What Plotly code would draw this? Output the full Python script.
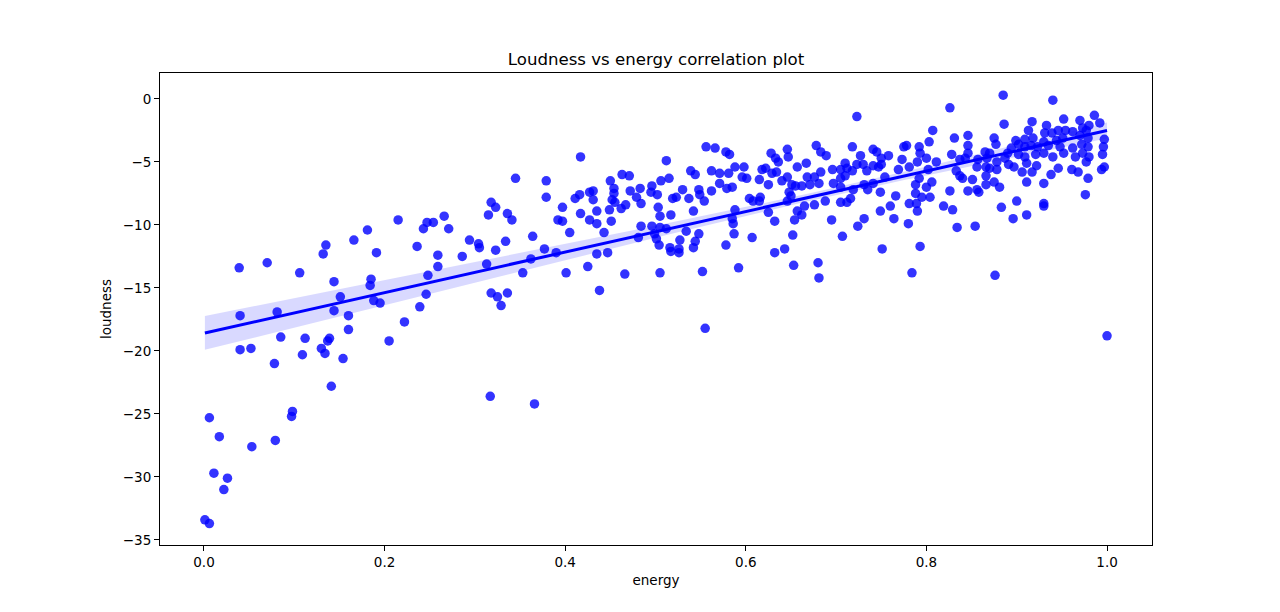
import numpy as np
import plotly.graph_objects as go

# values (energy, loudness)
energy_low = [0.135, 0.166, 0.132, 0.191, 0.039, 0.070, 0.106, 0.144, 0.185, 0.184,
              0.151, 0.188, 0.195, 0.040, 0.081, 0.144, 0.160, 0.160, 0.222, 0.205,
              0.085, 0.112, 0.139, 0.137, 0.130, 0.134, 0.109, 0.154, 0.040, 0.052,
              0.078, 0.141, 0.006, 0.098, 0.097, 0.017, 0.053, 0.079, 0.011, 0.026,
              0.022, 0.001, 0.006, 0.181]
loud_low = [-11.6, -11.2, -12.3, -12.2, -13.4, -13.0, -13.8, -14.5, -14.3, -14.8,
            -15.7, -16.0, -16.2, -17.2, -16.9, -16.8, -17.2, -18.3, -17.7, -19.2,
            -18.9, -19.0, -19.0, -19.2, -19.8, -20.2, -20.3, -20.6, -19.9, -19.8,
            -21.0, -22.8, -25.3, -24.8, -25.2, -26.8, -27.6, -27.1, -29.7, -30.1,
            -31.0, -33.4, -33.7, -10.4]

energy_mid = [0.417, 0.345, 0.379, 0.379, 0.411, 0.416, 0.427, 0.318, 0.323, 0.315,
              0.336, 0.341, 0.397, 0.392, 0.397, 0.417, 0.427, 0.215, 0.247, 0.254,
              0.266, 0.243, 0.271, 0.236, 0.259, 0.259, 0.248, 0.246, 0.239, 0.294,
              0.304, 0.305, 0.286, 0.323, 0.334, 0.313, 0.364, 0.377, 0.390, 0.362,
              0.353, 0.401, 0.425, 0.318, 0.325, 0.336, 0.329, 0.405, 0.317, 0.366]
loud_mid = [-4.6, -6.3, -6.5, -7.8, -7.9, -7.6, -7.4, -8.2, -8.6, -9.2,
            -9.1, -9.6, -8.6, -9.6, -9.7, -9.1, -9.6, -9.6, -9.8, -9.8,
            -9.3, -10.3, -10.3, -11.7, -12.4, -13.3, -14.0, -15.5, -16.5, -11.2,
            -11.5, -11.8, -12.5, -12.0, -11.3, -13.1, -10.9, -11.9, -12.2, -12.7,
            -13.8, -13.8, -13.3, -15.4, -15.7, -15.4, -16.4, -10.6, -23.6, -24.2]

energy_c = [0.556, 0.566, 0.578, 0.582, 0.628, 0.633, 0.512, 0.463, 0.471, 0.450,
            0.454, 0.431, 0.454, 0.431, 0.452, 0.455, 0.472, 0.483, 0.496, 0.495,
            0.502, 0.479, 0.484, 0.462, 0.467, 0.506, 0.515, 0.503, 0.449, 0.435,
            0.435, 0.451, 0.505, 0.517, 0.443, 0.484, 0.481, 0.496, 0.505, 0.499,
            0.501, 0.512, 0.504, 0.519, 0.523, 0.530, 0.537, 0.539, 0.544, 0.548,
            0.549, 0.554, 0.542, 0.534, 0.527, 0.544, 0.548, 0.542, 0.516, 0.517,
            0.526, 0.526, 0.435, 0.447, 0.466, 0.505, 0.438, 0.555, 0.552, 0.592,
            0.632, 0.607, 0.578, 0.587, 0.586, 0.585, 0.588, 0.625, 0.632, 0.604,
            0.608, 0.616, 0.615, 0.562, 0.562, 0.571, 0.571, 0.579, 0.585, 0.581,
            0.588, 0.598, 0.596, 0.601, 0.615, 0.625, 0.618, 0.622, 0.629]
loud_c = [-3.8, -3.9, -4.2, -4.4, -4.3, -4.7, -4.9, -6.0, -6.1, -6.5,
          -7.1, -7.3, -7.5, -8.0, -8.0, -8.2, -7.3, -7.1, -6.9, -7.4,
          -7.6, -7.8, -8.3, -8.7, -8.4, -6.5, -6.3, -8.6, -8.8, -8.9,
          -9.9, -9.7, -9.3, -9.2, -10.6, -10.1, -11.0, -10.1, -10.2, -10.7,
          -11.1, -10.3, -11.6, -7.9, -7.8, -7.2, -7.9, -5.7, -6.0, -7.2,
          -7.6, -8.1, -8.9, -10.5, -11.2, -11.3, -10.7, -11.8, -11.8, -12.1,
          -11.9, -12.2, -12.3, -12.2, -13.9, -13.8, -15.2, -18.2, -13.7, -13.4,
          -12.2, -11.0, -11.6, -10.7, -9.9, -9.5, -8.8, -9.0, -9.7, -7.9,
          -8.1, -7.8, -8.1, -7.3, -5.7, -5.9, -6.7, -7.1, -7.0, -5.9,
          -5.4, -5.4, -6.2, -6.3, -6.4, -6.8, -5.6, -5.5, -5.9]

energy_d = [0.723, 0.646, 0.636, 0.647, 0.657, 0.667, 0.678, 0.683, 0.689, 0.718,
            0.727, 0.741, 0.745, 0.750, 0.758, 0.775, 0.773, 0.769, 0.634, 0.640,
            0.646, 0.651, 0.655, 0.662, 0.668, 0.671, 0.676, 0.683, 0.681, 0.696,
            0.697, 0.705, 0.710, 0.712, 0.710, 0.705, 0.718, 0.723, 0.730, 0.734,
            0.741, 0.747, 0.750, 0.754, 0.705, 0.719, 0.731, 0.735, 0.741, 0.648,
            0.650, 0.646, 0.665, 0.657, 0.662, 0.654, 0.676, 0.688, 0.705, 0.712,
            0.716, 0.749, 0.766, 0.760, 0.749, 0.764, 0.695, 0.731, 0.724, 0.652,
            0.707, 0.643, 0.751, 0.653, 0.680, 0.681]
loud_d = [-1.4, -4.0, -5.0, -4.6, -5.4, -5.1, -3.7, -4.2, -4.5, -3.8,
          -4.5, -4.0, -4.2, -4.7, -4.5, -3.8, -4.8, -5.6, -5.8, -6.5,
          -6.2, -6.8, -6.9, -6.9, -6.2, -6.8, -6.2, -5.8, -6.7, -5.6,
          -6.7, -5.6, -5.1, -5.5, -6.1, -6.3, -5.7, -5.2, -5.2, -5.7,
          -5.3, -5.4, -5.2, -6.2, -7.0, -7.2, -6.8, -7.2, -6.7, -7.4,
          -7.7, -8.1, -8.5, -8.9, -9.2, -9.6, -8.4, -8.1, -8.2, -8.2,
          -7.9, -7.4, -7.7, -8.5, -8.9, -9.5, -9.6, -9.5, -10.1, -10.8,
          -10.9, -11.9, -11.9, -13.2, -13.0, -14.2]

energy_e = [0.885, 0.826, 0.886, 0.807, 0.831, 0.846, 0.875, 0.778, 0.792, 0.803,
            0.793, 0.846, 0.846, 0.877, 0.865, 0.870, 0.828, 0.790, 0.800, 0.811,
            0.781, 0.802, 0.837, 0.843, 0.857, 0.867, 0.878, 0.887, 0.856, 0.866,
            0.870, 0.878, 0.833, 0.837, 0.840, 0.851, 0.866, 0.792, 0.788, 0.806,
            0.800, 0.866, 0.875, 0.881, 0.826, 0.846, 0.856, 0.858, 0.788, 0.795,
            0.804, 0.781, 0.789, 0.790, 0.819, 0.829, 0.883, 0.780, 0.834, 0.854,
            0.793, 0.784, 0.876]
loud_e = [0.3, -0.7, -2.0, -2.5, -3.1, -2.9, -3.1, -3.7, -3.8, -3.4,
          -4.3, -3.7, -4.3, -3.6, -4.2, -4.3, -4.4, -5.0, -4.7, -5.0,
          -5.4, -5.6, -4.8, -4.7, -4.8, -4.7, -5.0, -4.7, -5.4, -5.4,
          -5.5, -5.6, -5.7, -6.1, -6.3, -6.4, -6.1, -6.3, -6.8, -6.6,
          -7.0, -6.8, -6.6, -7.0, -7.3, -7.3, -7.2, -7.4, -7.5, -7.8,
          -7.8, -8.3, -8.3, -8.9, -8.5, -8.8, -8.6, -9.9, -10.2, -10.1,
          -11.7, -13.8, -14.0]

energy_f = [0.940, 0.986, 0.992, 0.952, 0.970, 0.980, 0.917, 0.913, 0.933, 0.946,
            0.954, 0.962, 0.973, 0.977, 0.931, 0.939, 0.918, 0.909, 0.902, 0.899,
            0.930, 0.944, 0.951, 0.970, 0.979, 0.997, 0.996, 0.995, 0.894, 0.890,
            0.909, 0.916, 0.923, 0.935, 0.948, 0.962, 0.972, 0.979, 0.902, 0.909,
            0.921, 0.930, 0.940, 0.952, 0.965, 0.973, 0.980, 0.891, 0.897, 0.911,
            0.922, 0.946, 0.961, 0.968, 0.977, 0.997, 0.994, 0.906, 0.911, 0.917,
            0.930, 0.938, 0.979, 0.900, 0.930, 0.976, 0.896, 0.911, 0.930, 1.000]
loud_f = [-0.1, -1.3, -1.9, -1.6, -1.7, -2.1, -1.8, -2.5, -2.1, -2.5,
          -2.5, -2.6, -2.3, -2.5, -2.7, -2.7, -3.1, -3.2, -3.6, -3.3,
          -3.4, -3.3, -3.1, -2.9, -3.1, -3.2, -3.8, -4.4, -3.9, -4.3,
          -3.8, -3.7, -3.8, -3.7, -3.8, -3.9, -3.6, -3.8, -4.4, -4.6,
          -4.4, -4.3, -4.6, -4.3, -4.6, -4.3, -4.6, -5.2, -5.4, -5.1,
          -5.3, -5.5, -5.6, -5.8, -5.0, -5.4, -5.6, -5.8, -6.6, -5.8,
          -6.7, -6.0, -6.3, -8.1, -8.3, -7.6, -9.5, -9.2, -8.5, -18.8]

x_ticks = [0.0, 0.2, 0.4, 0.6, 0.8, 1.0]
y_ticks = [-35, -30, -25, -20, -15, -10, -5, 0]

x = np.array(energy_low + energy_mid + energy_c + energy_d + energy_e + energy_f)
y = np.array(loud_low + loud_mid + loud_c + loud_d + loud_e + loud_f)

# linear fit, 95% band from a robust (HC3) covariance - close to regplot's bootstrap
X = np.column_stack([np.ones_like(x), x])
XtX_inv = np.linalg.inv(X.T @ X)
beta = XtX_inv @ X.T @ y
resid = y - X @ beta
h = np.sum((X @ XtX_inv) * X, axis=1)
meat = X.T @ (X * (resid ** 2 / (1 - h) ** 2)[:, None])
cov = XtX_inv @ meat @ XtX_inv

xs = np.linspace(x.min(), x.max(), 100)
Xs = np.column_stack([np.ones_like(xs), xs])
ys = Xs @ beta
se = np.sqrt(np.sum((Xs @ cov) * Xs, axis=1))
upper = ys + 1.96 * se
lower = ys - 1.96 * se

font = "DejaVu Sans, Arial, sans-serif"

fig = go.Figure()
fig.add_trace(go.Scatter(x=xs, y=upper, mode='lines', line=dict(width=0),
                         hoverinfo='skip', showlegend=False))
fig.add_trace(go.Scatter(x=xs, y=lower, mode='lines', line=dict(width=0),
                         fill='tonexty', fillcolor='rgba(0,0,255,0.15)',
                         hoverinfo='skip', showlegend=False))
fig.add_trace(go.Scatter(x=x, y=y, mode='markers', showlegend=False,
                         marker=dict(color='blue', size=9.5, opacity=0.8, line=dict(width=0))))
fig.add_trace(go.Scatter(x=xs, y=ys, mode='lines', line=dict(color='blue', width=3),
                         showlegend=False))

axis_common = dict(showgrid=False, zeroline=False, showline=True, linecolor='black',
                   linewidth=1, mirror=True, ticks='outside', ticklen=5, tickwidth=1,
                   tickcolor='black', tickfont=dict(size=13.5, color='black', family=font))

# page body adds 8px offset, so margins are shifted by that amount
fig.update_layout(
    width=1280, height=612,
    plot_bgcolor='white', paper_bgcolor='white',
    margin=dict(l=152, r=136, t=65, b=75),
    font=dict(family=font, color='black'),
    title=dict(text='Loudness vs energy correlation plot', x=0.5, xref='paper',
               y=1 - 51 / 612, yref='container', yanchor='middle',
               font=dict(size=16.6, color='black', family=font)),
    xaxis=dict(range=[-0.0487, 1.0498], tickvals=x_ticks, tickformat='.1f',
               title=dict(text='energy', font=dict(size=13.5, color='black'), standoff=6),
               **axis_common),
    yaxis=dict(range=[-35.4, 2.06], tickvals=y_ticks,
               title=dict(text='loudness', font=dict(size=13.5, color='black'), standoff=8),
               **axis_common),
)

fig.write_html("out.html")
